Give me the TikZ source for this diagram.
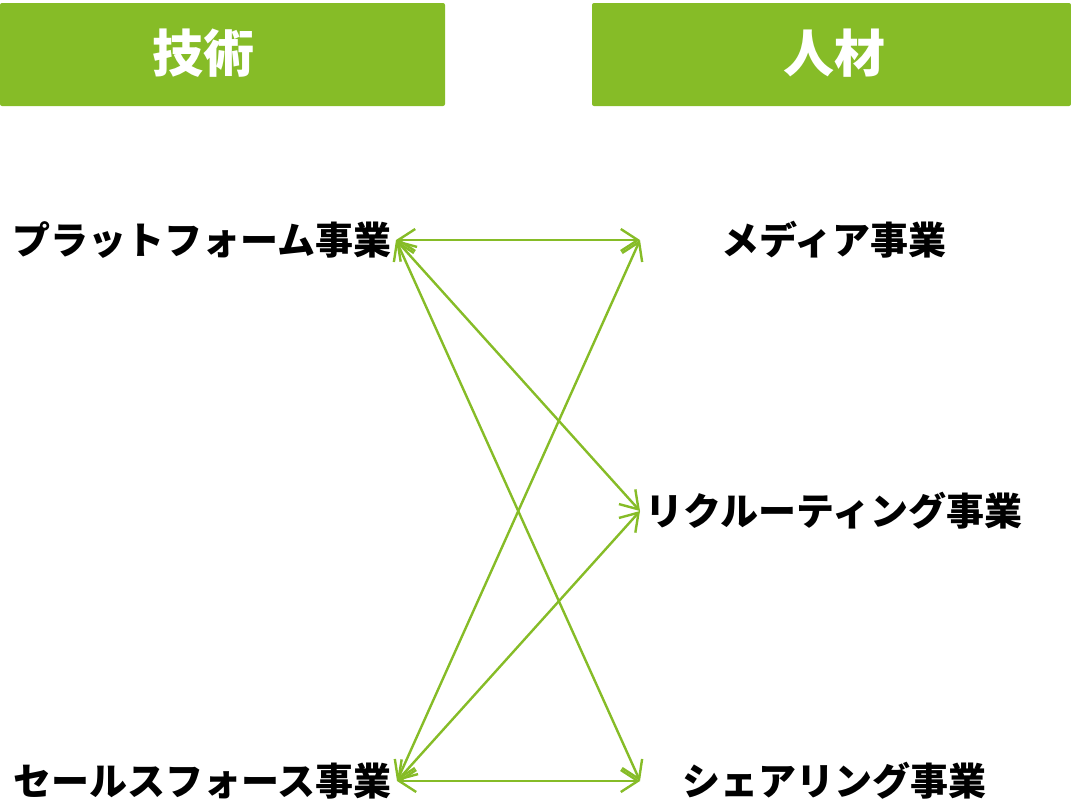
\documentclass[tikz,border=0pt]{standalone}
\usepackage{fontspec}
\newfontfamily\cjk{Noto Sans CJK JP}
\usetikzlibrary{arrows.meta}
\definecolor{leaf}{RGB}{134,188,39}
\tikzset{
  headbox/.style={fill=leaf, draw=none, rounded corners=2pt},
  headtext/.style={font=\cjk\bfseries\fontsize{51}{58}\selectfont, text=white, inner sep=0pt},
  biz/.style={font=\cjk\bfseries\fontsize{38}{44}\selectfont, text=black, inner sep=0pt, minimum height=40pt, align=center},
  lbiz/.style={biz, minimum width=388pt},
  rbiz/.style={biz, minimum width=388pt},
  link/.style={draw=leaf, line width=2.4pt, {Straight Barb[length=17pt,width=22pt]}-{Straight Barb[length=17pt,width=22pt]}}
}
\begin{document}
\begin{tikzpicture}[x=1pt,y=-1pt]
\useasboundingbox (0,0) rectangle (1071,804);
% header boxes
\path[headbox] (0,3) rectangle (445,106);
\path[headbox] (592,3) rectangle (1071,106);
\node[headtext] (tech) at (203,53) {技術};
\node[headtext] (jinzai) at (834,53) {人材};
% business nodes
\node[lbiz, anchor=east] (plat) at (396,240) {プラットフォーム事業};
\node[lbiz, anchor=east] (sales) at (397,781) {セールスフォース事業};
\node[rbiz, anchor=west] (media) at (640,240) {メディア事業};
\node[rbiz, anchor=west] (recr) at (640,511) {リクルーティング事業};
\node[rbiz, anchor=west] (share) at (640,781) {シェアリング事業};
% connectors
\draw[link] (plat.east) -- (media.west);
\draw[link] (plat.east) -- (recr.west);
\draw[link] (plat.east) -- (share.west);
\draw[link] (sales.east) -- (media.west);
\draw[link] (sales.east) -- (recr.west);
\draw[link] (sales.east) -- (share.west);
\end{tikzpicture}
\end{document}
